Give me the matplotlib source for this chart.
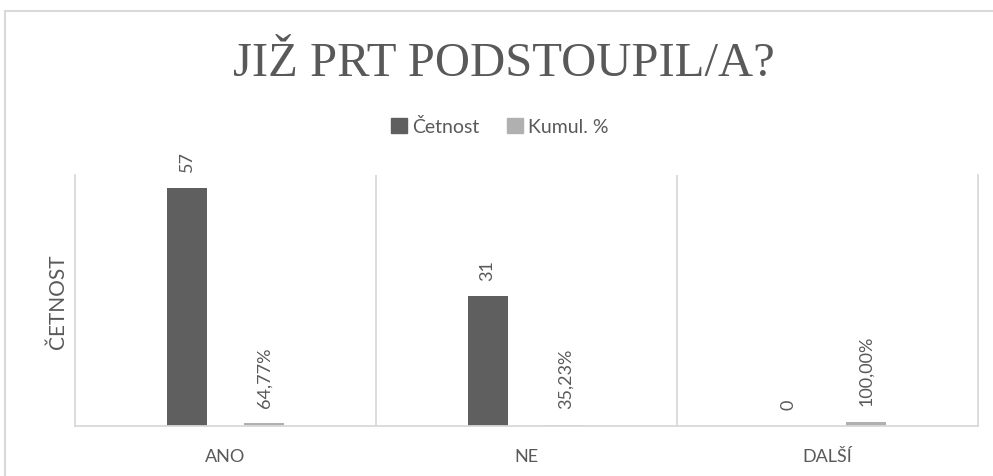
import matplotlib.pyplot as plt
import numpy as np
from matplotlib.patches import Patch
from matplotlib.lines import Line2D

# data
categories = ["ANO", "NE", "DALŠÍ"]
cetnost = [57, 31, 0]
kumul = [0.6477, 0.3523, 1.0]
kumul_labels = ["64,77%", "35,23%", "100,00%"]

DARK = "#5f5f5f"
LIGHT = "#b0b0b0"
GRID = "#d9d9d9"
TEXT = "#595959"

plt.rcParams['font.family'] = ['Lato', 'DejaVu Sans']

fig = plt.figure(figsize=(9.93, 4.77), dpi=100)
W, H = 993, 477

# outer chart border (cut at bottom/right)
fig.add_artist(Line2D([5 / W, 1.0], [1 - 12 / H, 1 - 12 / H], color=GRID, lw=1.5, transform=fig.transFigure))
fig.add_artist(Line2D([5 / W, 5 / W], [0, 1 - 12 / H], color=GRID, lw=1.5, transform=fig.transFigure))

ax = fig.add_axes([75 / W, 50 / H, 903 / W, 251 / H])

x = np.arange(len(categories))
w = 0.133
off = 0.129
ax.bar(x - off, cetnost, w, color=DARK, label="Četnost")
ax.bar(x + off, kumul, w, color=LIGHT, label="Kumul. %")

for i in range(len(categories)):
    ax.annotate(str(cetnost[i]), (x[i] - off, cetnost[i]), xytext=(0, 12), textcoords='offset points',
                rotation=90, ha='center', va='bottom', fontsize=13, color=TEXT)
    ax.annotate(kumul_labels[i], (x[i] + off, kumul[i]), xytext=(0, 12), textcoords='offset points',
                rotation=90, ha='center', va='bottom', fontsize=13, color=TEXT)

ax.set_xlim(-0.5, 2.5)
ax.set_ylim(0, 60)
for sep in [0.5, 1.5]:
    ax.axvline(sep, color=GRID, lw=1.3)

for s in ['left', 'right', 'bottom']:
    ax.spines[s].set_color(GRID)
    ax.spines[s].set_linewidth(1.3)
ax.spines['top'].set_visible(False)

ax.set_yticks([])
ax.set_xticks(x)
ax.set_xticklabels(categories, fontsize=13, color=TEXT)
ax.tick_params(axis='x', length=0, pad=16)
ax.set_ylabel("ČETNOST", fontsize=15, color=TEXT, labelpad=5)

fig.text(504 / W, 1 - 64 / H, "JIŽ PRT PODSTOUPIL/A?", ha='center', va='center',
         fontsize=35, color=TEXT, family='Liberation Serif')

handles = [Patch(color=DARK), Patch(color=LIGHT)]
fig.legend(handles, ["Četnost", "Kumul. %"], loc='center', bbox_to_anchor=(500 / W, 1 - 127 / H),
           ncol=2, frameon=False, fontsize=14, labelcolor=TEXT, handlelength=0.8, handleheight=0.8,
           handletextpad=0.3, columnspacing=1.4)

plt.savefig('out.png', dpi=100)
